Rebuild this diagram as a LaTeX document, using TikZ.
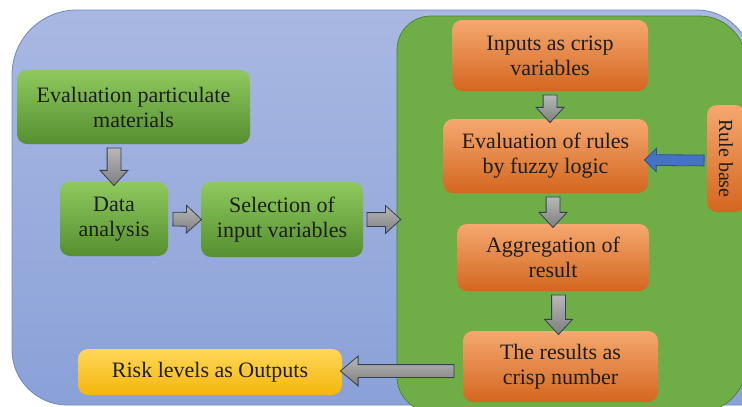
\documentclass[tikz,border=0pt]{standalone}
\usepackage{fontspec}
\setmainfont{Liberation Serif}
\usepackage{graphicx}
\usetikzlibrary{shapes.arrows,calc}
\definecolor{bluetop}{HTML}{A9B8E2}
\definecolor{bluebot}{HTML}{8AA1D8}
\definecolor{blueedge}{HTML}{6F88C2}
\definecolor{greenpanel}{HTML}{6FAD47}
\definecolor{greenedge}{HTML}{4E8030}
\definecolor{gtop}{HTML}{8FC95E}
\definecolor{gbot}{HTML}{558F30}
\definecolor{otop}{HTML}{F5A870}
\definecolor{obot}{HTML}{D4661F}
\definecolor{ytop}{HTML}{FFD75A}
\definecolor{ybot}{HTML}{F4B60A}
\definecolor{atop}{HTML}{B8B8B8}
\definecolor{abot}{HTML}{7E7E7E}
\definecolor{aedge}{HTML}{34404E}
\definecolor{barrow}{HTML}{4472C4}
\definecolor{bedge}{HTML}{2F528F}
\definecolor{txt}{HTML}{1E1E1E}
\tikzset{
  box/.style={rounded corners=10pt, inner sep=0pt, align=center, text=txt,
    font=\fontsize{22}{25}\selectfont},
  gbox/.style={box, top color=gtop, bottom color=gbot},
  obox/.style={box, top color=otop, bottom color=obot},
  ybox/.style={box, top color=ytop, bottom color=ybot},
  garrow/.style={single arrow, draw=aedge, line width=0.8pt, top color=atop, bottom color=abot,
    inner xsep=0pt, inner ysep=6.5pt, minimum width=27pt, single arrow head extend=7pt,
    single arrow tip angle=85, anchor=center},
  bigarrow/.style={garrow, inner ysep=6pt, minimum width=29pt, single arrow head extend=8.5pt, single arrow tip angle=80},
  barrowst/.style={single arrow, draw=bedge, line width=0.8pt, fill=barrow,
    inner xsep=0pt, inner ysep=5pt, minimum width=23pt, single arrow head extend=6.5pt,
    single arrow tip angle=90, anchor=center}
}
\newcommand\blk[3][garrow]{%
  \path let \p1=(#2), \p2=(#3), \n1={atan2(\y2-\y1,\x2-\x1)}, \n2={veclen(\x2-\x1,\y2-\y1)} in
    node[#1, minimum height=\n2, rotate=\n1] at ($(\p1)!0.5!(\p2)$) {};}
\begin{document}
\begin{tikzpicture}[x=1pt,y=-1pt]
\useasboundingbox (0,0) rectangle (742,407);
\fill[white] (0,0) rectangle (742,407);
\clip (0,0) rectangle (742,407);
% blue panel
\path[draw=blueedge, line width=0.8pt, top color=bluetop, bottom color=bluebot]
  (12,75) .. controls (12,39) and (41,10) .. (77,10) -- (697,10)
  .. controls (727,10) and (752,35) .. (752,65) -- (752,405) -- (67,405)
  .. controls (37,405) and (12,380) .. (12,350) -- cycle;
% green panel
\path[draw=greenedge, line width=0.7pt, fill=greenpanel]
  (397,50) .. controls (397,31) and (412,16) .. (431,16) -- (700,16)
  .. controls (725,16) and (746,37) .. (746,62) -- (746,365)
  .. controls (746,391) and (725,412) .. (699,412) -- (432,412)
  .. controls (413,412) and (397,396) .. (397,377) -- cycle;
\coordinate (gleft) at (397,220);
% nodes
\node[gbox, minimum width=233, minimum height=74] (ep) at (133.5,107) {Evaluation particulate\\materials};
\node[gbox, minimum width=108, minimum height=74] (da) at (114,219) {Data\\analysis};
\node[gbox, minimum width=162, minimum height=75] (sel) at (282,219.5) {Selection of\\input variables};
\node[ybox, minimum width=264, minimum height=46] (risk) at (210,372) {Risk levels as Outputs};
\node[obox, minimum width=196, minimum height=71] (inp) at (550,55.5) {Inputs as crisp\\variables};
\node[obox, minimum width=205, minimum height=74] (ev) at (545.5,156) {Evaluation of rules\\by fuzzy logic};
\node[obox, minimum width=38, minimum height=107, font=\fontsize{20}{24}\selectfont] (rule) at (726,158.5) {\rotatebox{-90}{Rule base}};
\node[obox, minimum width=192, minimum height=67] (agg) at (553,257.5) {Aggregation of\\result};
\node[obox, minimum width=195, minimum height=71] (res) at (560.5,366.5) {The results as\\crisp number};
% arrows
\blk{da.north |- ep.south}{da.north}
\blk{$(da.east)+(1,0)$}{$(sel.west)+(-3,0)$}
\blk{sel.east}{gleft |- sel.east}
\blk{inp.south}{inp.south |- ev.north}
\blk{agg.north |- ev.south}{agg.north}
\blk{$(res.north |- agg.south)+(-2,0)$}{$(res.north)+(-2,0)$}
\blk[bigarrow]{$(res.west |- risk.east)+(-5,-1)$}{$(risk.east)+(2,-1)$}
\blk[barrowst]{$(rule.west)+(0,2)$}{$(ev.east)+(-1,4)$}
\end{tikzpicture}
\end{document}
